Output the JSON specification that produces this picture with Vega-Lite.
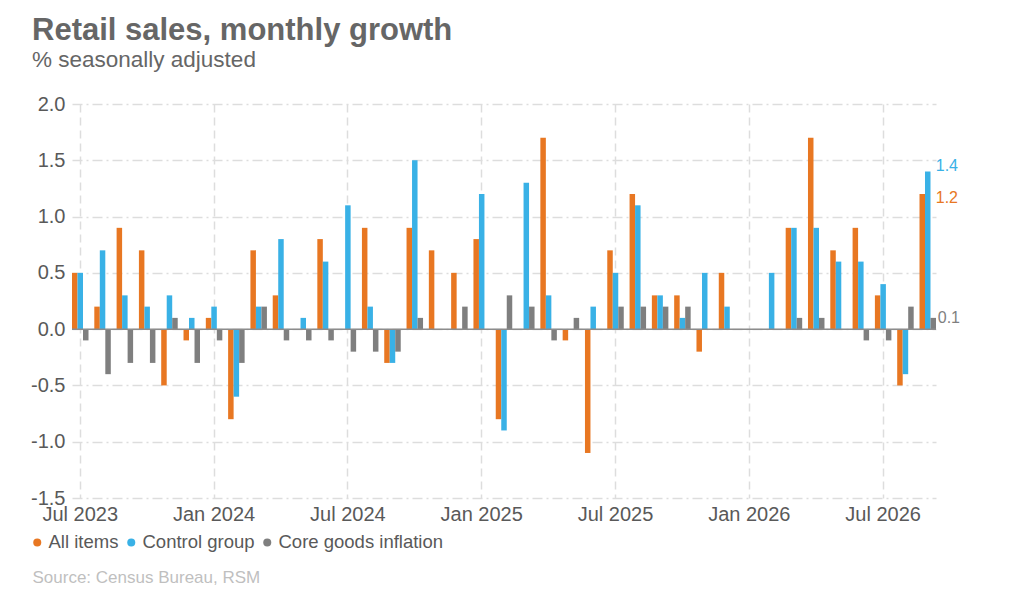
{
  "$schema": "https://vega.github.io/schema/vega-lite/v6.json",
  "width": 864,
  "height": 394,
  "autosize": {"type": "none"},
  "padding": {"left": 72, "top": 104, "right": 84, "bottom": 102},
  "background": "white",
  "config": {
    "font": "Liberation Sans",
    "view": {"stroke": null},
    "axisX": {
      "labelFontSize": 20,
      "labelColor": "#595959",
      "labelPadding": 6,
      "labelAngle": 0,
      "labelOverlap": false,
      "ticks": false,
      "domain": false,
      "grid": true,
      "gridDash": [8, 5],
      "gridColor": "#dddddd",
      "gridWidth": 1.5
    },
    "axisY": {
      "labelFontSize": 20,
      "labelColor": "#595959",
      "labelPadding": 7,
      "ticks": false,
      "domain": false,
      "gridDash": [10, 4, 2, 4],
      "gridColor": "#dddddd",
      "gridWidth": 1.5
    }
  },
  "title": {
    "text": "Retail sales, monthly growth",
    "subtitle": "% seasonally adjusted",
    "anchor": "start",
    "frame": "bounds",
    "dx": 4,
    "fontSize": 31,
    "fontWeight": "bold",
    "color": "#666666",
    "subtitleFontSize": 22.5,
    "subtitleColor": "#666666",
    "subtitlePadding": 2,
    "offset": 22
  },
  "data": {
    "values": [
      {"month": "Jul 2023", "All items": 0.5, "Control group": 0.5, "Core goods inflation": -0.1},
      {"month": "Aug 2023", "All items": 0.2, "Control group": 0.7, "Core goods inflation": -0.4},
      {"month": "Sep 2023", "All items": 0.9, "Control group": 0.3, "Core goods inflation": -0.3},
      {"month": "Oct 2023", "All items": 0.7, "Control group": 0.2, "Core goods inflation": -0.3},
      {"month": "Nov 2023", "All items": -0.5, "Control group": 0.3, "Core goods inflation": 0.1},
      {"month": "Dec 2023", "All items": -0.1, "Control group": 0.1, "Core goods inflation": -0.3},
      {"month": "Jan 2024", "All items": 0.1, "Control group": 0.2, "Core goods inflation": -0.1},
      {"month": "Feb 2024", "All items": -0.8, "Control group": -0.6, "Core goods inflation": -0.3},
      {"month": "Mar 2024", "All items": 0.7, "Control group": 0.2, "Core goods inflation": 0.2},
      {"month": "Apr 2024", "All items": 0.3, "Control group": 0.8, "Core goods inflation": -0.1},
      {"month": "May 2024", "All items": 0, "Control group": 0.1, "Core goods inflation": -0.1},
      {"month": "Jun 2024", "All items": 0.8, "Control group": 0.6, "Core goods inflation": -0.1},
      {"month": "Jul 2024", "All items": 0, "Control group": 1.1, "Core goods inflation": -0.2},
      {"month": "Aug 2024", "All items": 0.9, "Control group": 0.2, "Core goods inflation": -0.2},
      {"month": "Sep 2024", "All items": -0.3, "Control group": -0.3, "Core goods inflation": -0.2},
      {"month": "Oct 2024", "All items": 0.9, "Control group": 1.5, "Core goods inflation": 0.1},
      {"month": "Nov 2024", "All items": 0.7, "Control group": 0, "Core goods inflation": 0},
      {"month": "Dec 2024", "All items": 0.5, "Control group": 0, "Core goods inflation": 0.2},
      {"month": "Jan 2025", "All items": 0.8, "Control group": 1.2, "Core goods inflation": 0},
      {"month": "Feb 2025", "All items": -0.8, "Control group": -0.9, "Core goods inflation": 0.3},
      {"month": "Mar 2025", "All items": 0, "Control group": 1.3, "Core goods inflation": 0.2},
      {"month": "Apr 2025", "All items": 1.7, "Control group": 0.3, "Core goods inflation": -0.1},
      {"month": "May 2025", "All items": -0.1, "Control group": 0, "Core goods inflation": 0.1},
      {"month": "Jun 2025", "All items": -1.1, "Control group": 0.2, "Core goods inflation": 0},
      {"month": "Jul 2025", "All items": 0.7, "Control group": 0.5, "Core goods inflation": 0.2},
      {"month": "Aug 2025", "All items": 1.2, "Control group": 1.1, "Core goods inflation": 0.2},
      {"month": "Sep 2025", "All items": 0.3, "Control group": 0.3, "Core goods inflation": 0.2},
      {"month": "Oct 2025", "All items": 0.3, "Control group": 0.1, "Core goods inflation": 0.2},
      {"month": "Nov 2025", "All items": -0.2, "Control group": 0.5, "Core goods inflation": 0},
      {"month": "Dec 2025", "All items": 0.5, "Control group": 0.2, "Core goods inflation": 0},
      {"month": "Jan 2026", "All items": 0, "Control group": 0, "Core goods inflation": 0},
      {"month": "Feb 2026", "All items": 0, "Control group": 0.5, "Core goods inflation": 0},
      {"month": "Mar 2026", "All items": 0.9, "Control group": 0.9, "Core goods inflation": 0.1},
      {"month": "Apr 2026", "All items": 1.7, "Control group": 0.9, "Core goods inflation": 0.1},
      {"month": "May 2026", "All items": 0.7, "Control group": 0.6, "Core goods inflation": 0},
      {"month": "Jun 2026", "All items": 0.9, "Control group": 0.6, "Core goods inflation": -0.1},
      {"month": "Jul 2026", "All items": 0.3, "Control group": 0.4, "Core goods inflation": -0.1},
      {"month": "Aug 2026", "All items": -0.5, "Control group": -0.4, "Core goods inflation": 0.2},
      {"month": "Sep 2026", "All items": 1.2, "Control group": 1.4, "Core goods inflation": 0.1}
    ]
  },
  "transform": [
    {"fold": ["All items", "Control group", "Core goods inflation"], "as": ["series", "value"]}
  ],
  "layer": [
    {
      "mark": {"type": "bar"},
      "encoding": {
        "x": {
          "field": "month",
          "type": "ordinal",
          "sort": null,
          "scale": {"paddingInner": 0.26, "paddingOuter": 0},
          "axis": {
            "bandPosition": 0.5,
            "labelExpr": "slice(datum.value, 0, 3) == 'Jul' || slice(datum.value, 0, 3) == 'Jan' ? datum.value : ''",
            "gridOpacity": {
              "condition": {"test": "slice(datum.value, 0, 3) == 'Jul' || slice(datum.value, 0, 3) == 'Jan'", "value": 1},
              "value": 0
            },
            "title": "Source: Census Bureau, RSM",
            "titleFontSize": 17,
            "titleFontWeight": "normal",
            "titleColor": "#bfbfbf",
            "titleAnchor": "start",
            "titleAlign": "left",
            "titleBaseline": "middle",
            "titleX": -40,
            "titleY": 79
          }
        },
        "xOffset": {
          "field": "series",
          "sort": ["All items", "Control group", "Core goods inflation"],
          "scale": {"paddingInner": 0, "paddingOuter": 0}
        },
        "y": {
          "field": "value",
          "type": "quantitative",
          "scale": {"domain": [-1.5, 2], "nice": false},
          "axis": {
            "values": [-1.5, -1, -0.5, 0, 0.5, 1, 1.5, 2],
            "labelExpr": "replace(format(datum.value, '.1f'), '\u2212', '-')",
            "title": null
          }
        },
        "color": {
          "field": "series",
          "type": "nominal",
          "scale": {
            "domain": ["All items", "Control group", "Core goods inflation"],
            "range": ["#E87722", "#39B1E6", "#7F7F7F"]
          },
          "legend": {
            "orient": "none",
            "legendX": -44,
            "legendY": 429,
            "direction": "horizontal",
            "title": null,
            "symbolType": "circle",
            "symbolSize": 64,
            "symbolStrokeWidth": 0,
            "labelFontSize": 18.5,
            "labelColor": "#595959",
            "labelOffset": 2,
            "labelLimit": 400,
            "columnPadding": 3
          }
        }
      }
    },
    {
      "data": {"values": [{}]},
      "mark": {"type": "rule", "color": "#8c8c8c", "strokeWidth": 1.5},
      "encoding": {"y": {"datum": 0}}
    },
    {
      "transform": [{"filter": "datum.month == 'Sep 2026' && datum.series == 'Control group'"}],
      "mark": {"type": "text", "align": "left", "baseline": "middle", "dx": 8, "dy": -6, "fontSize": 16, "color": "#39B1E6"},
      "encoding": {
        "x": {"field": "month", "type": "ordinal", "sort": null},
        "y": {"field": "value", "type": "quantitative"},
        "text": {"field": "value", "type": "quantitative", "format": ".1f"}
      }
    },
    {
      "transform": [{"filter": "datum.month == 'Sep 2026' && datum.series == 'All items'"}],
      "mark": {"type": "text", "align": "left", "baseline": "middle", "dx": 8, "dy": 4, "fontSize": 16, "color": "#E87722"},
      "encoding": {
        "x": {"field": "month", "type": "ordinal", "sort": null},
        "y": {"field": "value", "type": "quantitative"},
        "text": {"field": "value", "type": "quantitative", "format": ".1f"}
      }
    },
    {
      "transform": [{"filter": "datum.month == 'Sep 2026' && datum.series == 'Core goods inflation'"}],
      "mark": {"type": "text", "align": "left", "baseline": "middle", "dx": 10, "dy": 0, "fontSize": 16, "color": "#7F7F7F"},
      "encoding": {
        "x": {"field": "month", "type": "ordinal", "sort": null},
        "y": {"field": "value", "type": "quantitative"},
        "text": {"field": "value", "type": "quantitative", "format": ".1f"}
      }
    }
  ]
}
